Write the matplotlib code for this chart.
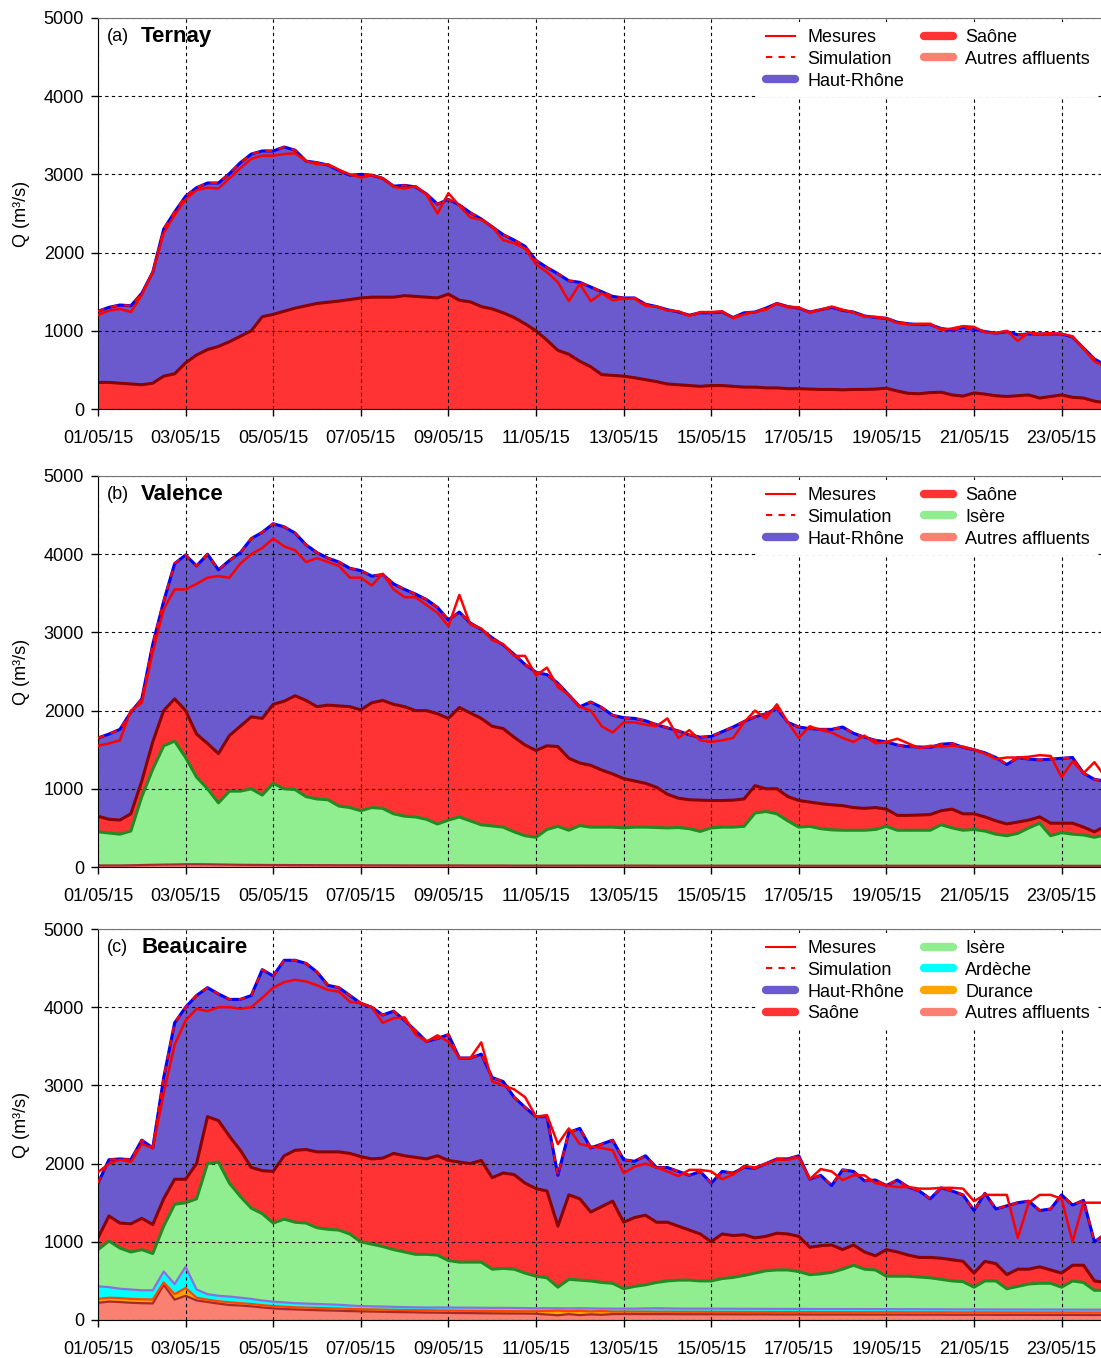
import numpy as np
import pandas as pd
import matplotlib
matplotlib.use('Agg')
import matplotlib.pyplot as plt
from matplotlib.lines import Line2D

plt.rcParams['font.family'] = ['Liberation Sans', 'DejaVu Sans']

# 6-hourly time steps, 01/05/2015 00h -> 24/05/2015 00h
time = pd.date_range('2015-05-01', periods=93, freq='6h')
tick_days = pd.date_range('2015-05-01', '2015-05-23', freq='2D')

# ---- (a) Ternay : levels (top of each stacked layer) ----
a_total = [1250, 1300, 1330, 1320, 1480, 1750, 2300, 2520, 2720, 2830, 2890, 2890,
           3010, 3150, 3260, 3300, 3300, 3350, 3310, 3170, 3150, 3120, 3050, 2990,
           3000, 2990, 2950, 2850, 2860, 2840, 2750, 2620, 2680, 2610, 2510, 2430,
           2330, 2230, 2160, 2080, 1900, 1810, 1730, 1640, 1620, 1560, 1500, 1440,
           1420, 1420, 1340, 1310, 1270, 1240, 1200, 1230, 1230, 1240, 1170, 1230,
           1240, 1290, 1350, 1310, 1290, 1240, 1270, 1300, 1260, 1240, 1190, 1170,
           1160, 1110, 1090, 1080, 1080, 1030, 1010, 1040, 1020, 990, 970, 990,
           950, 960, 960, 960, 960, 920, 780, 640, 560]
a_mesures = [1200, 1260, 1280, 1240, 1460, 1750, 2250, 2480, 2680, 2800, 2830, 2820,
             2950, 3080, 3200, 3240, 3240, 3260, 3270, 3170, 3130, 3130, 3060, 3000,
             2960, 2990, 2950, 2840, 2820, 2850, 2740, 2500, 2760, 2600, 2450, 2420,
             2330, 2160, 2120, 2050, 1850, 1750, 1620, 1380, 1600, 1380, 1480, 1390,
             1410, 1410, 1320, 1310, 1260, 1250, 1190, 1240, 1240, 1250, 1160, 1210,
             1240, 1270, 1350, 1300, 1300, 1230, 1270, 1310, 1270, 1230, 1180, 1180,
             1160, 1100, 1080, 1090, 1090, 1010, 1030, 1060, 1050, 980, 970, 1000,
             870, 980, 960, 970, 960, 930, 770, 610, 540]
a_saone_top = [340, 340, 330, 320, 310, 330, 420, 450, 590, 690, 760, 800,
               860, 930, 1000, 1180, 1210, 1250, 1290, 1320, 1350, 1365, 1380, 1400,
               1420, 1430, 1430, 1430, 1450, 1440, 1430, 1420, 1470, 1390, 1370, 1310,
               1280, 1230, 1170, 1090, 1000, 880, 750, 700, 610, 540, 440, 430,
               420, 400, 375, 350, 320, 310, 300, 290, 300, 300, 290, 280,
               280, 270, 270, 260, 260, 255, 250, 250, 245, 250, 250, 255,
               265, 230, 200, 195, 210, 215, 180, 165, 205, 190, 170, 160,
               170, 180, 140, 160, 180, 150, 140, 100, 80]

# ---- (b) Valence ----
b_total = [1650, 1700, 1760, 1980, 2150, 2850, 3400, 3880, 3990, 3850, 4000, 3800,
           3920, 4020, 4200, 4280, 4390, 4350, 4270, 4120, 4020, 3950, 3900, 3820,
           3790, 3720, 3740, 3620, 3550, 3490, 3420, 3320, 3160, 3260, 3120, 3040,
           2930, 2840, 2720, 2590, 2490, 2460, 2350, 2200, 2050, 2110, 2040, 1940,
           1910, 1900, 1870, 1820, 1780, 1740, 1690, 1660, 1670, 1730, 1790, 1860,
           1920, 1960, 2030, 1850, 1790, 1770, 1760, 1760, 1790, 1710, 1660, 1620,
           1600, 1560, 1540, 1535, 1530, 1570, 1580, 1530, 1500, 1460, 1400, 1310,
           1400, 1380, 1370, 1380, 1390, 1400, 1200, 1120, 1100]
b_mesures = [1550, 1580, 1620, 2000, 2100, 2750, 3300, 3550, 3550, 3620, 3700, 3720,
             3700, 3880, 4000, 4080, 4200, 4100, 4050, 3900, 3950, 3900, 3850, 3700,
             3700, 3600, 3750, 3550, 3450, 3450, 3350, 3250, 3080, 3480, 3100, 3050,
             2900, 2850, 2700, 2700, 2450, 2550, 2300, 2200, 2050, 2000, 1800, 1720,
             1850, 1850, 1820, 1800, 1900, 1650, 1750, 1620, 1600, 1620, 1650, 1850,
             2000, 1900, 2080, 1850, 1650, 1800, 1750, 1720, 1650, 1600, 1680, 1580,
             1600, 1640, 1580, 1520, 1550, 1540, 1550, 1540, 1500, 1450, 1380, 1400,
             1400, 1410, 1430, 1420, 1150, 1350, 1200, 1340, 1150]
b_saone_top = [650, 610, 600, 680, 1100, 1600, 2000, 2150, 2000, 1700, 1580, 1450,
               1680, 1800, 1920, 1900, 2080, 2120, 2190, 2130, 2050, 2070, 2060, 2050,
               2010, 2100, 2130, 2080, 2050, 2000, 2000, 1960, 1900, 2040, 1970, 1900,
               1800, 1770, 1660, 1560, 1490, 1550, 1540, 1390, 1330, 1300, 1240, 1190,
               1130, 1100, 1070, 1020, 930, 880, 860, 855, 850, 850, 855, 870,
               1040, 1000, 1000, 900, 850, 830, 810, 795, 785, 760, 750, 760,
               740, 660, 660, 665, 670, 720, 740, 680, 680, 640, 590, 550,
               575, 600, 640, 560, 560, 560, 510, 450, 520]
b_isere_top = [450, 435, 420, 460, 900, 1250, 1550, 1610, 1400, 1150, 1000, 820,
               970, 970, 1000, 920, 1070, 1000, 990, 900, 870, 860, 780, 760,
               720, 760, 750, 680, 650, 640, 610, 550, 600, 640, 590, 540,
               525, 510, 450, 400, 380, 480, 520, 470, 530, 510, 510, 510,
               500, 510, 510, 505, 500, 505, 490, 455, 500, 510, 510, 520,
               690, 710, 680, 590, 510, 520, 490, 475, 470, 470, 470, 480,
               520, 470, 470, 470, 470, 540, 500, 470, 480, 460, 420, 400,
               430, 500, 560, 400, 440, 420, 410, 380, 410]
b_autres_top = [20, 20, 20, 22, 25, 28, 30, 32, 35, 35, 34, 32,
                30, 28, 27, 26, 25, 25, 24, 24, 23, 23, 22, 22,
                22, 21, 21, 21, 20, 20, 20, 20, 20, 20, 19, 19,
                19, 19, 18, 18, 18, 18, 18, 18, 18, 18, 18, 18,
                18, 18, 18, 17, 17, 17, 17, 17, 17, 17, 17, 17,
                17, 17, 17, 17, 16, 16, 16, 16, 16, 16, 16, 16,
                16, 16, 16, 16, 16, 16, 16, 16, 15, 15, 15, 15,
                15, 15, 15, 15, 15, 15, 15, 15, 15]

# ---- (c) Beaucaire ----
c_total = [1750, 2050, 2060, 2050, 2300, 2200, 3100, 3800, 4000, 4150, 4250, 4170,
           4100, 4100, 4150, 4480, 4400, 4600, 4600, 4560, 4450, 4280, 4250, 4150,
           4050, 4000, 3900, 3950, 3830, 3700, 3560, 3600, 3650, 3350, 3350, 3400,
           3100, 3050, 2850, 2720, 2600, 2600, 1850, 2400, 2450, 2200, 2250, 2300,
           2050, 2030, 2100, 1950, 1950, 1900, 1850, 1900, 1750, 1900, 1880, 1950,
           1940, 2000, 2060, 2060, 2100, 1800, 1850, 1720, 1920, 1900, 1780, 1790,
           1720, 1790, 1700, 1650, 1550, 1690, 1650, 1600, 1400, 1620, 1420, 1460,
           1500, 1520, 1400, 1420, 1600, 1470, 1530, 1000, 1100]
c_mesures = [1890, 2000, 2050, 2020, 2250, 2200, 2900, 3520, 3830, 3980, 3950, 4000,
             4000, 3980, 4000, 4120, 4250, 4320, 4350, 4330, 4280, 4220, 4200, 4070,
             4050, 4000, 3800, 3860, 3870, 3650, 3560, 3640, 3560, 3350, 3350, 3550,
             3050, 3000, 2950, 2850, 2600, 2620, 2250, 2450, 2250, 2220, 2200, 2170,
             1880, 1960, 2000, 1950, 1900, 1840, 1920, 1920, 1900, 1800, 1860, 1970,
             1950, 2000, 2050, 2050, 2080, 1800, 1930, 1900, 1790, 1850, 1850, 1750,
             1720, 1700, 1700, 1680, 1680, 1690, 1690, 1680, 1520, 1600, 1600, 1600,
             1050, 1500, 1600, 1600, 1550, 1000, 1500, 1500, 1500]
c_saone_top = [1050, 1330, 1240, 1230, 1300, 1220, 1550, 1800, 1800, 2000, 2600, 2550,
               2350, 2170, 1950, 1910, 1900, 2100, 2170, 2180, 2150, 2150, 2150, 2130,
               2090, 2060, 2070, 2130, 2100, 2080, 2060, 2100, 2040, 2020, 2000, 2040,
               1820, 1880, 1860, 1750, 1680, 1650, 1200, 1600, 1550, 1380, 1450, 1520,
               1250, 1310, 1340, 1250, 1250, 1200, 1150, 1100, 1000, 1100, 1080, 1090,
               1050, 1070, 1110, 1100, 1070, 930, 950, 960, 900, 960, 870, 820,
               900, 870, 830, 800, 800, 790, 770, 750, 600, 750, 720, 580,
               650, 650, 680, 640, 600, 700, 700, 500, 480]
c_isere_top = [900, 1010, 920, 870, 900, 850, 1200, 1480, 1500, 1550, 2000, 2020,
               1750, 1580, 1430, 1360, 1240, 1290, 1250, 1240, 1180, 1160, 1150, 1100,
               1000, 970, 940, 900, 870, 840, 840, 830, 760, 740, 740, 740,
               650, 660, 650, 600, 560, 540, 420, 520, 510, 500, 480, 470,
               400, 430, 450, 480, 500, 510, 510, 500, 500, 530, 545, 570,
               600, 630, 640, 640, 620, 580, 590, 610, 650, 700, 650, 640,
               560, 560, 560, 550, 540, 520, 500, 490, 420, 500, 500, 400,
               430, 460, 470, 470, 420, 500, 480, 380, 380]
c_ardeche_top = [430, 420, 400, 390, 380, 380, 620, 460, 680, 390, 330, 310,
                 300, 285, 270, 250, 235, 225, 215, 210, 205, 200, 195, 185,
                 178, 175, 172, 168, 165, 162, 160, 160, 160, 158, 158, 156,
                 155, 155, 154, 152, 150, 150, 150, 148, 150, 148, 146, 145,
                 145, 145, 148, 150, 148, 146, 145, 145, 145, 144, 144, 143,
                 143, 142, 142, 142, 142, 141, 140, 140, 140, 140, 140, 139,
                 139, 138, 138, 138, 137, 137, 136, 136, 136, 135, 135, 135,
                 135, 134, 134, 134, 133, 133, 132, 132, 132]
c_durance_top = [270, 285, 280, 270, 265, 262, 480, 330, 410, 285, 260, 240,
                 226, 215, 205, 190, 178, 170, 162, 158, 155, 150, 146, 142,
                 138, 136, 133, 130, 128, 126, 125, 122, 120, 118, 117, 116,
                 115, 114, 113, 112, 112, 115, 120, 112, 118, 110, 115, 108,
                 108, 107, 107, 106, 106, 105, 105, 105, 104, 104, 104, 103,
                 103, 103, 102, 102, 102, 102, 101, 101, 101, 100, 100, 100,
                 100, 100, 99, 99, 99, 99, 98, 98, 98, 98, 97, 97,
                 97, 97, 96, 96, 96, 96, 95, 95, 95]
c_autres_top = [220, 235, 230, 220, 215, 212, 450, 260, 310, 250, 230, 210,
                192, 185, 175, 160, 148, 140, 135, 130, 125, 122, 118, 114,
                111, 108, 105, 102, 100, 98, 95, 93, 91, 89, 88, 86,
                85, 84, 83, 82, 80, 70, 60, 75, 62, 72, 66, 76,
                76, 76, 75, 75, 75, 74, 74, 74, 73, 73, 73, 72,
                72, 72, 71, 71, 71, 70, 70, 70, 70, 70, 69, 69,
                69, 69, 68, 68, 68, 68, 67, 67, 67, 67, 66, 66,
                66, 66, 65, 65, 65, 65, 64, 64, 64]

# colours: (fill, edge line)
col = {
    'Haut-Rhône': ('#6A5ACD', '#0000FF'),
    'Saône': ('#FF3333', '#8B0000'),
    'Isère': ('#90EE90', '#228B22'),
    'Ardèche': ('#00FFFF', '#8A6FE0'),
    'Durance': ('#FFA500', '#FF4500'),
    'Autres affluents': ('#FA8072', '#A52A2A'),
}


def draw_panel(ax, layers, total, mesures, letter, name, legend_names):
    lower = np.zeros(len(time))
    for lname, top in layers:
        top = np.asarray(top, dtype=float)
        fill, edge = col[lname]
        ax.fill_between(time, lower, top, color=fill, lw=0, zorder=1)
        lw = 2.2 if lname in ('Haut-Rhône', 'Saône', 'Isère') else 1.6
        ax.plot(time, top, color=edge, lw=lw, zorder=2.2)
        lower = top
    ax.plot(time, total, color='red', lw=1.6, ls=(0, (3, 3)), zorder=3)
    ax.plot(time, mesures, color='red', lw=1.8, zorder=3.1)

    ax.set_xlim(time[0], time[0] + pd.Timedelta(days=22.9))
    ax.set_ylim(0, 5000)
    ax.set_yticks([0, 1000, 2000, 3000, 4000, 5000])
    ax.set_xticks(tick_days)
    ax.set_xticklabels([d.strftime('%d/%m/%y') for d in tick_days])
    ax.grid(True, color='black', linestyle=(0, (3, 3)), linewidth=0.8)
    ax.set_axisbelow('line')
    ax.tick_params(axis='both', direction='out', length=5, width=1,
                   labelsize=13)
    ax.tick_params(axis='x', pad=10)
    ax.tick_params(axis='y', pad=5)
    ax.spines['right'].set_visible(False)
    ax.spines['top'].set_color('0.45')
    ax.set_ylabel('Q (m³/s)', fontsize=13, labelpad=10)

    ax.text(0.009, 0.952, '(' + letter + ')', transform=ax.transAxes,
            fontsize=13, va='center', ha='left')
    ax.text(0.043, 0.952, name, transform=ax.transAxes, fontsize=16,
            fontweight='bold', va='center', ha='left')

    handles = [Line2D([], [], color='red', lw=1.5),
               Line2D([], [], color='red', lw=1.5, ls=(0, (3, 3)))]
    labels = ['Mesures', 'Simulation']
    for lname in legend_names:
        handles.append(Line2D([], [], color=col[lname][0], lw=6,
                              solid_capstyle='round'))
        labels.append(lname)
    leg = ax.legend(handles, labels, loc='upper right', ncol=2,
                    bbox_to_anchor=(1.0, 1.0), borderaxespad=0.2,
                    fontsize=13, handlelength=1.6, handletextpad=0.7,
                    columnspacing=1.1, labelspacing=0.27, frameon=True,
                    facecolor='white', edgecolor='none', framealpha=1.0,
                    fancybox=False)
    leg.set_zorder(10)


fig = plt.figure(figsize=(11.01, 13.58), dpi=100)
h = 391 / 1358
left = 98 / 1101
ax_a = fig.add_axes([left, 1 - 409 / 1358, 1 - left, h])
ax_b = fig.add_axes([left, 1 - 867 / 1358, 1 - left, h])
ax_c = fig.add_axes([left, 1 - 1320 / 1358, 1 - left, h])

draw_panel(ax_a,
           [('Saône', a_saone_top), ('Haut-Rhône', a_total)],
           a_total, a_mesures, 'a', 'Ternay',
           ['Haut-Rhône', 'Saône', 'Autres affluents'])

draw_panel(ax_b,
           [('Autres affluents', b_autres_top), ('Isère', b_isere_top),
            ('Saône', b_saone_top), ('Haut-Rhône', b_total)],
           b_total, b_mesures, 'b', 'Valence',
           ['Haut-Rhône', 'Saône', 'Isère', 'Autres affluents'])

draw_panel(ax_c,
           [('Autres affluents', c_autres_top), ('Durance', c_durance_top),
            ('Ardèche', c_ardeche_top), ('Isère', c_isere_top),
            ('Saône', c_saone_top), ('Haut-Rhône', c_total)],
           c_total, c_mesures, 'c', 'Beaucaire',
           ['Haut-Rhône', 'Saône', 'Isère', 'Ardèche', 'Durance',
            'Autres affluents'])

fig.savefig('out.png', dpi=100)
